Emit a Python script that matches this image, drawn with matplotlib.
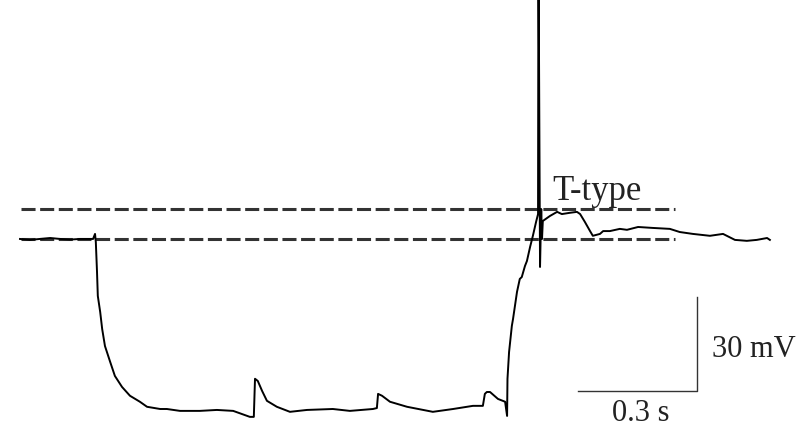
import matplotlib.pyplot as plt

# membrane potential trace, time in s, voltage in mV
t_s = [0.000, 0.025, 0.050, 0.076, 0.101, 0.126, 0.151, 0.184, 0.189, 0.191,
       0.194, 0.196, 0.202, 0.207, 0.214, 0.227, 0.239, 0.257, 0.277, 0.302,
       0.320, 0.353, 0.370, 0.403, 0.453, 0.496, 0.537, 0.579, 0.589, 0.592,
       0.599, 0.610, 0.622, 0.647, 0.680, 0.723, 0.788, 0.831, 0.889, 0.899,
       0.902, 0.912, 0.932, 0.975, 1.040, 1.091, 1.141, 1.166, 1.171, 1.176,
       1.184, 1.204, 1.222, 1.227, 1.228, 1.232, 1.239, 1.242, 1.252, 1.259,
       1.264, 1.272, 1.277, 1.285, 1.292, 1.300, 1.305, 1.306, 1.310, 1.313,
       1.315, 1.317, 1.335, 1.353, 1.365, 1.385, 1.403, 1.411, 1.423, 1.436,
       1.443, 1.461, 1.469, 1.486, 1.511, 1.529, 1.557, 1.594, 1.637, 1.662,
       1.695, 1.738, 1.771, 1.801, 1.831, 1.856, 1.882, 1.889]
v_mv = [-65.0, -65.3, -65.0, -64.7, -65.0, -65.2, -65.0, -65.0, -63.4, -66.0,
        -75.5, -83.1, -88.2, -93.6, -99.0, -104.0, -108.5, -112.0, -114.8, -116.7,
        -118.3, -119.0, -119.0, -119.6, -119.6, -119.3, -119.6, -121.5, -121.5, -109.4,
        -110.1, -113.3, -116.4, -118.3, -119.9, -119.3, -119.0, -119.6, -119.0, -118.7,
        -114.2, -114.8, -116.7, -118.3, -119.9, -119.0, -118.0, -118.0, -114.2, -113.6,
        -113.6, -115.8, -116.7, -121.2, -109.4, -100.9, -92.6, -90.4, -81.8, -77.7,
        -77.1, -73.6, -72.0, -67.5, -64.0, -59.6, -57.1, 30.0, -73.9, -55.5,
        -65.0, -59.3, -57.7, -56.4, -57.1, -56.7, -56.4, -57.1, -59.6, -62.5,
        -64.0, -63.4, -62.5, -62.5, -61.8, -62.1, -61.2, -61.5, -61.8, -62.8,
        -63.4, -64.0, -63.4, -65.3, -65.6, -65.3, -64.7, -65.3]

# dashed reference levels (mV) and their extent (s)
ref_levels = [-55.5, -65.0]
ref_span = [0.003, 1.650]

# scale bar: 0.3 s by 30 mV
bar_t0 = 1.405
bar_v0 = -113.3
bar_dt = 0.3
bar_dv = 30

fig = plt.figure(figsize=(8.06, 4.27), dpi=100)
ax = fig.add_axes([0, 0, 1, 1])
ax.set_xlim(-0.0504, 1.980)
ax.set_ylim(-124.4, 11.2)
ax.axis('off')

for lvl in ref_levels:
    ax.plot(ref_span, [lvl, lvl], color='#333333', lw=2.2,
            dashes=(4.6, 1.5), solid_capstyle='butt')

ax.plot(t_s, v_mv, color='black', lw=1.4)

ax.plot([bar_t0, bar_t0 + bar_dt, bar_t0 + bar_dt],
        [bar_v0, bar_v0, bar_v0 + bar_dv], color='#333333', lw=1.0)

serif = 'Liberation Serif'
ax.text(bar_t0 + bar_dt / 2 + 0.009, -122.5, '0.3 s', ha='center',
        va='baseline', fontsize=22, family=serif, color='#222222')
ax.text(1.743, -102.1, '30 mV', ha='left', va='baseline', fontsize=22,
        family=serif, color='#222222')
ax.text(1.340, -52.3, 'T-type', ha='left', va='baseline', fontsize=25,
        family=serif, color='#222222')

fig.savefig('out.png', dpi=100)
